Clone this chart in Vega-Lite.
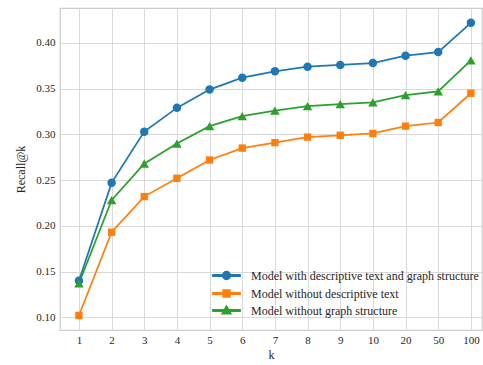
{
  "$schema": "https://vega.github.io/schema/vega-lite/v6.json",
  "width": 422,
  "height": 322,
  "autosize": {"type": "none"},
  "padding": {"left": 60, "top": 8, "right": 1, "bottom": 35},
  "background": "white",
  "config": {
    "font": "Liberation Serif",
    "view": {"stroke": "#cccccc", "strokeWidth": 1.25},
    "axis": {
      "domain": false,
      "ticks": false,
      "grid": true,
      "gridColor": "#d9d9d9",
      "gridWidth": 1,
      "labelFont": "Liberation Serif",
      "labelFontSize": 11,
      "labelColor": "#262626",
      "titleFont": "Liberation Serif",
      "titleFontSize": 12,
      "titleFontWeight": "normal",
      "titleColor": "#262626"
    },
    "legend": {
      "labelFont": "Liberation Serif",
      "labelFontSize": 12,
      "labelColor": "#262626",
      "labelLimit": 0
    }
  },
  "data": {
    "values": [
      {"k": "1", "model": "Model with descriptive text and graph structure", "recall": 0.140},
      {"k": "2", "model": "Model with descriptive text and graph structure", "recall": 0.247},
      {"k": "3", "model": "Model with descriptive text and graph structure", "recall": 0.303},
      {"k": "4", "model": "Model with descriptive text and graph structure", "recall": 0.329},
      {"k": "5", "model": "Model with descriptive text and graph structure", "recall": 0.349},
      {"k": "6", "model": "Model with descriptive text and graph structure", "recall": 0.362},
      {"k": "7", "model": "Model with descriptive text and graph structure", "recall": 0.369},
      {"k": "8", "model": "Model with descriptive text and graph structure", "recall": 0.374},
      {"k": "9", "model": "Model with descriptive text and graph structure", "recall": 0.376},
      {"k": "10", "model": "Model with descriptive text and graph structure", "recall": 0.378},
      {"k": "20", "model": "Model with descriptive text and graph structure", "recall": 0.386},
      {"k": "50", "model": "Model with descriptive text and graph structure", "recall": 0.390},
      {"k": "100", "model": "Model with descriptive text and graph structure", "recall": 0.422},
      {"k": "1", "model": "Model without descriptive text", "recall": 0.102},
      {"k": "2", "model": "Model without descriptive text", "recall": 0.193},
      {"k": "3", "model": "Model without descriptive text", "recall": 0.232},
      {"k": "4", "model": "Model without descriptive text", "recall": 0.252},
      {"k": "5", "model": "Model without descriptive text", "recall": 0.272},
      {"k": "6", "model": "Model without descriptive text", "recall": 0.285},
      {"k": "7", "model": "Model without descriptive text", "recall": 0.291},
      {"k": "8", "model": "Model without descriptive text", "recall": 0.297},
      {"k": "9", "model": "Model without descriptive text", "recall": 0.299},
      {"k": "10", "model": "Model without descriptive text", "recall": 0.301},
      {"k": "20", "model": "Model without descriptive text", "recall": 0.309},
      {"k": "50", "model": "Model without descriptive text", "recall": 0.313},
      {"k": "100", "model": "Model without descriptive text", "recall": 0.345},
      {"k": "1", "model": "Model without graph structure", "recall": 0.137},
      {"k": "2", "model": "Model without graph structure", "recall": 0.228},
      {"k": "3", "model": "Model without graph structure", "recall": 0.268},
      {"k": "4", "model": "Model without graph structure", "recall": 0.290},
      {"k": "5", "model": "Model without graph structure", "recall": 0.309},
      {"k": "6", "model": "Model without graph structure", "recall": 0.320},
      {"k": "7", "model": "Model without graph structure", "recall": 0.326},
      {"k": "8", "model": "Model without graph structure", "recall": 0.331},
      {"k": "9", "model": "Model without graph structure", "recall": 0.333},
      {"k": "10", "model": "Model without graph structure", "recall": 0.335},
      {"k": "20", "model": "Model without graph structure", "recall": 0.343},
      {"k": "50", "model": "Model without graph structure", "recall": 0.347},
      {"k": "100", "model": "Model without graph structure", "recall": 0.381}
    ]
  },
  "encoding": {
    "x": {
      "field": "k",
      "type": "ordinal",
      "sort": null,
      "scale": {"type": "point", "padding": 0.46, "align": 0.63},
      "axis": {"title": "k", "labelAngle": 0, "labelPadding": 4, "titlePadding": 4}
    },
    "y": {
      "field": "recall",
      "type": "quantitative",
      "scale": {"domain": [0.0861, 0.4382], "nice": false, "zero": false},
      "axis": {
        "title": "Recall@k",
        "values": [0.10, 0.15, 0.20, 0.25, 0.30, 0.35, 0.40],
        "format": ".2f",
        "labelPadding": 5,
        "titlePadding": 8
      }
    }
  },
  "layer": [
    {
      "mark": {"type": "line", "strokeWidth": 1.75},
      "encoding": {
        "color": {
          "field": "model",
          "type": "nominal",
          "sort": null,
          "scale": {
            "domain": ["Model with descriptive text and graph structure", "Model without descriptive text", "Model without graph structure"],
            "range": ["#1f77b4", "#ff7f0e", "#2ca02c"]
          },
          "legend": {
            "title": null,
            "orient": "none",
            "legendX": 159,
            "legendY": 260,
            "padding": 0,
            "symbolSize": 169,
            "labelOffset": 17,
            "rowPadding": 3,
            "encode": {
              "symbols": {
                "update": {
                  "shape": {"signal": "datum.value === 'Model with descriptive text and graph structure' ? 'M-2.1,-0.11L2.1,-0.11L2.1,0.11L-2.1,0.11ZM0.6,0A0.6,0.6,0,1,1,-0.6,0A0.6,0.6,0,1,1,0.6,0Z' : datum.value === 'Model without descriptive text' ? 'M-2.1,-0.11L2.1,-0.11L2.1,0.11L-2.1,0.11ZM-0.53,-0.53L0.53,-0.53L0.53,0.53L-0.53,0.53Z' : 'M-2.1,-0.11L2.1,-0.11L2.1,0.11L-2.1,0.11ZM0,-0.68L0.68,0.5L-0.68,0.5Z'"},
                  "fill": {"signal": "scale('color', datum.value)"},
                  "stroke": {"value": "transparent"},
                  "fillOpacity": {"value": 1},
                  "opacity": {"value": 1}
                }
              }
            }
          }
        }
      }
    },
    {
      "transform": [{"filter": "datum.model === 'Model with descriptive text and graph structure'"}],
      "mark": {"type": "point", "filled": true, "opacity": 1, "shape": "circle", "size": 72},
      "encoding": {"color": {"field": "model", "type": "nominal", "legend": null}}
    },
    {
      "transform": [{"filter": "datum.model === 'Model without descriptive text'"}],
      "mark": {"type": "point", "filled": true, "opacity": 1, "shape": "square", "size": 54},
      "encoding": {"color": {"field": "model", "type": "nominal", "legend": null}}
    },
    {
      "transform": [{"filter": "datum.model === 'Model without graph structure'"}],
      "mark": {"type": "point", "filled": true, "opacity": 1, "shape": "triangle-up", "size": 90},
      "encoding": {"color": {"field": "model", "type": "nominal", "legend": null}}
    }
  ]
}
